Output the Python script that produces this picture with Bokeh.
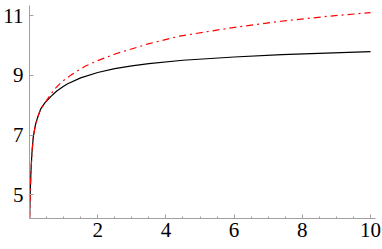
from bokeh.plotting import figure
from bokeh.models import FixedTicker, Range1d
from bokeh.embed import file_html
from bokeh.resources import INLINE

# Black solid curve
black_x = [0.003, 0.02, 0.04, 0.07, 0.11, 0.17, 0.24, 0.33, 0.45, 0.63, 0.8, 1.0, 1.12,
           1.5, 2.0, 2.5, 3.0, 3.5, 4.5, 6.0, 7.4, 10.0]
black_y = [4.2, 5.03, 5.70, 6.37, 6.93, 7.32, 7.60, 7.88, 8.08, 8.30, 8.48, 8.64, 8.72,
           8.92, 9.10, 9.23, 9.32, 9.40, 9.51, 9.62, 9.70, 9.80]

# Red dot-dashed curve
red_x = [0.003, 0.02, 0.04, 0.07, 0.11, 0.17, 0.24, 0.33, 0.45, 0.6, 0.75, 0.93, 1.22,
         1.63, 2.0, 2.51, 3.48, 4.4, 5.92, 7.38, 8.7, 10.0]
red_y = [4.2, 5.03, 5.70, 6.37, 6.93, 7.32, 7.60, 7.88, 8.08, 8.33, 8.56, 8.77, 9.02,
         9.31, 9.50, 9.72, 10.06, 10.32, 10.60, 10.82, 10.98, 11.11]

x_ticks = [2, 4, 6, 8, 10]
x_minor_ticks = [0.5, 1.0, 1.5, 2.5, 3.0, 3.5, 4.5, 5.0, 5.5, 6.5, 7.0, 7.5, 8.5, 9.0, 9.5]
y_ticks = [5, 7, 9, 11]

p = figure(width=382, height=249, output_backend="svg", toolbar_location=None,
           x_range=Range1d(0, 10.146), y_range=Range1d(4.2, 11.348),
           min_border_left=28, min_border_right=7, min_border_top=5, min_border_bottom=31)
p.outline_line_color = None
p.grid.visible = False
p.background_fill_color = "white"
p.border_fill_color = "white"

p.line(black_x, black_y, line_color="black", line_width=1.2)
p.line(red_x, red_y, line_color="#ff0000", line_width=1.2, line_dash="7 4 2 4")

axis_gray = "#a0a0a0"
p.xaxis.ticker = FixedTicker(ticks=x_ticks, minor_ticks=x_minor_ticks)
p.yaxis.ticker = FixedTicker(ticks=y_ticks)
for ax in (p.xaxis, p.yaxis):
    ax.axis_line_color = axis_gray
    ax.axis_line_width = 1
    ax.major_tick_line_color = axis_gray
    ax.minor_tick_line_color = axis_gray
    ax.major_tick_in = 4
    ax.major_tick_out = 0
    ax.minor_tick_in = 2
    ax.minor_tick_out = 0
    ax.major_label_text_font = "Liberation Serif"
    ax.major_label_text_font_size = "21px"
    ax.major_label_text_color = "black"
p.yaxis.minor_tick_line_color = None
p.xaxis.major_label_standoff = 4
p.yaxis.major_label_standoff = 6

open("out.html", "w").write(file_html(p, INLINE))
